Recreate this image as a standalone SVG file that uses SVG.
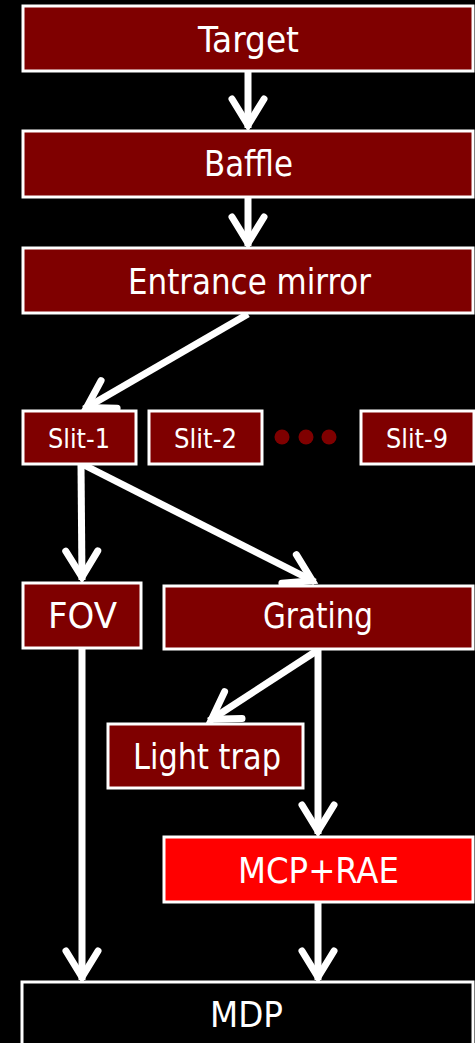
<svg xmlns="http://www.w3.org/2000/svg" width="475" height="1043" viewBox="0 0 475 1043">
  <style>
    .box { fill: #7f0000; stroke: #ffffff; stroke-width: 3; }
    .hot { fill: #ff0000; stroke: #ffffff; stroke-width: 3; }
    .out { fill: #000000; stroke: #ffffff; stroke-width: 3; }
    .lbl { fill: #ffffff; font-family: "DejaVu Sans Condensed", "DejaVu Sans", sans-serif; font-size: 36px; text-anchor: middle; }
    .sm { font-size: 27px; }
    .wire { fill: none; stroke: #ffffff; stroke-width: 7; marker-end: url(#head); }
    .dot { fill: #7f0000; }
  </style>
  <defs>
    <marker id="head" markerUnits="userSpaceOnUse" markerWidth="80" markerHeight="80" viewBox="-40 -40 80 80" refX="0" refY="0" orient="auto" overflow="visible">
      <path d="M-29,-16 L-3,0 L-29,16" fill="none" stroke="#ffffff" stroke-width="7" stroke-linecap="round" stroke-linejoin="miter"/>
    </marker>
  </defs>
  <rect x="0" y="0" width="475" height="1043" fill="#000000"/>

  <g id="connectors">
    <line class="wire" x1="248" y1="72" x2="248" y2="128"/>
    <line class="wire" x1="248" y1="198" x2="248" y2="246"/>
    <line class="wire" x1="248" y1="314" x2="84" y2="409"/>
    <line class="wire" x1="81" y1="465" x2="82" y2="580"/>
    <line class="wire" x1="84" y1="465" x2="315" y2="582"/>
    <line class="wire" x1="318" y1="650" x2="209" y2="721"/>
    <line class="wire" x1="318" y1="650" x2="318" y2="834"/>
    <line class="wire" x1="318" y1="903" x2="318" y2="980"/>
    <line class="wire" x1="82" y1="649" x2="82" y2="980"/>
  </g>

  <g id="target">
    <rect class="box" x="23" y="6" width="450" height="65"/>
    <text class="lbl" x="248.5" y="52" textLength="101" lengthAdjust="spacingAndGlyphs">Target</text>
  </g>
  <g id="baffle">
    <rect class="box" x="23" y="131" width="450" height="66"/>
    <text class="lbl" x="248.5" y="176" textLength="89" lengthAdjust="spacingAndGlyphs">Baffle</text>
  </g>
  <g id="entrance-mirror">
    <rect class="box" x="23" y="248" width="450" height="65"/>
    <text class="lbl" x="249.5" y="294" textLength="243" lengthAdjust="spacingAndGlyphs">Entrance mirror</text>
  </g>
  <g id="slit-1">
    <rect class="box" x="23" y="411" width="113" height="53"/>
    <text class="lbl sm" x="79" y="448" textLength="62" lengthAdjust="spacingAndGlyphs">Slit-1</text>
  </g>
  <g id="slit-2">
    <rect class="box" x="149" y="411" width="113" height="53"/>
    <text class="lbl sm" x="205.5" y="448" textLength="63" lengthAdjust="spacingAndGlyphs">Slit-2</text>
  </g>
  <g id="ellipsis">
    <circle class="dot" cx="282" cy="437" r="7.5"/>
    <circle class="dot" cx="306" cy="437" r="7.5"/>
    <circle class="dot" cx="329" cy="437" r="7.5"/>
  </g>
  <g id="slit-9">
    <rect class="box" x="361" y="411" width="113" height="53"/>
    <text class="lbl sm" x="417" y="448" textLength="62" lengthAdjust="spacingAndGlyphs">Slit-9</text>
  </g>
  <g id="fov">
    <rect class="box" x="23" y="583" width="118" height="65"/>
    <text class="lbl" x="82.5" y="628" textLength="69" lengthAdjust="spacingAndGlyphs">FOV</text>
  </g>
  <g id="grating">
    <rect class="box" x="164" y="586" width="309" height="63"/>
    <text class="lbl" x="318" y="628" textLength="110" lengthAdjust="spacingAndGlyphs">Grating</text>
  </g>
  <g id="light-trap">
    <rect class="box" x="108" y="724" width="195" height="64"/>
    <text class="lbl" x="207" y="769" textLength="148" lengthAdjust="spacingAndGlyphs">Light trap</text>
  </g>
  <g id="mcp-rae">
    <rect class="hot" x="164" y="837" width="309" height="65"/>
    <text class="lbl" x="318.5" y="883" textLength="161" lengthAdjust="spacingAndGlyphs">MCP+RAE</text>
  </g>
  <g id="mdp">
    <rect class="out" x="22" y="982" width="451" height="70"/>
    <text class="lbl" x="246.5" y="1027" textLength="73" lengthAdjust="spacingAndGlyphs">MDP</text>
  </g>
</svg>
